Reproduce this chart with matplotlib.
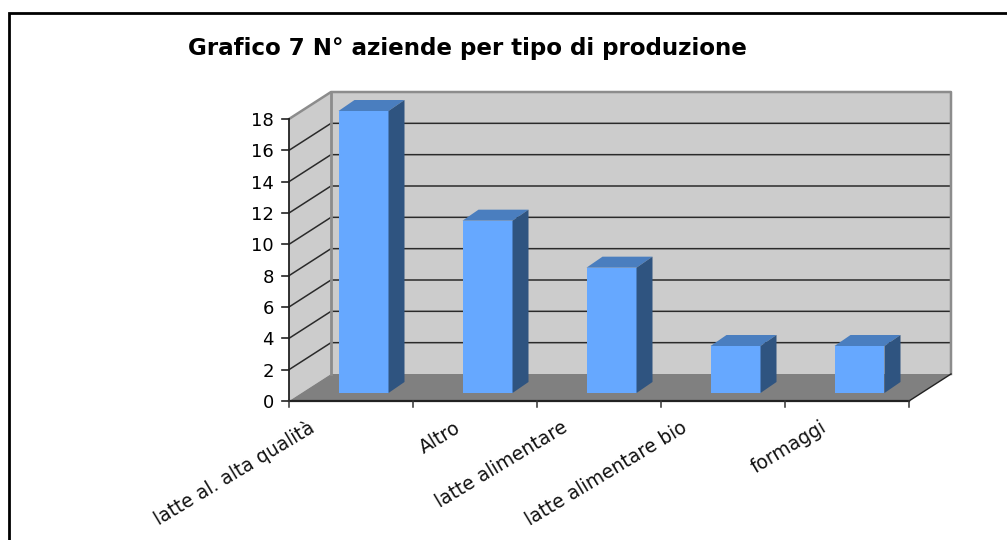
import numpy as np
import matplotlib
matplotlib.use("Agg")
import matplotlib.pyplot as plt
from matplotlib.lines import Line2D
from matplotlib.patches import Polygon

# ================= DATA =================
categories = ["latte al. alta qualità", "Altro", "latte alimentare",
              "latte alimentare bio", "formaggi"]
values = [18, 11, 8, 3, 3]
y_ticks = np.arange(0, 20, 2)

# ================= STYLE =================
W, H = 1007, 540
WALL = "#cccccc"
FLOOR = "#808080"
EDGE = "#8c8c8c"
BAR_FRONT = "#66a8ff"
BAR_TOP = "#4a7ebf"
BAR_SIDE = "#2f5480"

# horizontal shift of each category label's end from its slot centre (pixels)
label_shift = [-38, -16, -33, -38, -22]

plt.rcParams["font.family"] = ["DejaVu Sans"]

fig = plt.figure(figsize=(W / 100, H / 100), dpi=100)
# border of the chart area: only left and top edges are in frame
fig.add_artist(Line2D([8.5 / W, 8.5 / W, 1], [0, 1 - 13 / H, 1 - 13 / H], color="black",
                      lw=2, transform=fig.transFigure, solid_joinstyle="miter"))

left, right, top, bottom = 289, 909, 119, 401
ax = fig.add_axes([left / W, 1 - bottom / H, (right - left) / W, (bottom - top) / H])
ax.set_xlim(-0.5, 4.5)
ax.set_ylim(0, 18)
ax.axis("off")

# oblique depth of the box, in data units
px_x = (right - left) / 5
px_y = (bottom - top) / 18
dx = 42 / px_x
dy = 27 / px_y
x0, x1 = -0.5, 4.5
y_max = y_ticks[-1]


def poly(pts, fc, ec="none", lw=0, z=1):
    ax.add_patch(Polygon(pts, closed=True, fc=fc, ec=ec, lw=lw, zorder=z, clip_on=False))


# walls and floor
poly([(x0, 0), (x0 + dx, dy), (x0 + dx, y_max + dy), (x0, y_max)], WALL)
poly([(x0 + dx, dy), (x1 + dx, dy), (x1 + dx, y_max + dy), (x0 + dx, y_max + dy)], WALL)
poly([(x0, 0), (x1, 0), (x1 + dx, dy), (x0 + dx, dy)], FLOOR)

# gridlines on both walls
for v in y_ticks[1:-1]:
    ax.plot([x0, x0 + dx, x1 + dx], [v, v + dy, v + dy], color="#2a2a2a", lw=1.1,
            zorder=2, clip_on=False)

# wall outlines
ax.plot([x0, x0 + dx, x1 + dx, x1 + dx], [y_max, y_max + dy, y_max + dy, dy],
        color=EDGE, lw=1.8, zorder=2, clip_on=False)
ax.plot([x0 + dx, x0 + dx], [dy, y_max + dy], color=EDGE, lw=2.0, zorder=2, clip_on=False)
ax.plot([x1, x1 + dx], [0, dy], color="#222222", lw=1.0, zorder=2, clip_on=False)

# bars
bar_w = 50 / px_x
bar_dx, bar_dy = 16 / px_x, 11 / px_y
off_x, off_y = 12.5 / px_x, 8 / px_y
for i, v in enumerate(values):
    xa = i - bar_w / 2 + off_x
    xb = i + bar_w / 2 + off_x
    ya = off_y
    yb = v + off_y
    poly([(xa, ya), (xb, ya), (xb, yb), (xa, yb)], BAR_FRONT, z=4)
    poly([(xa, yb), (xb, yb), (xb + bar_dx, yb + bar_dy), (xa + bar_dx, yb + bar_dy)], BAR_TOP, z=4)
    poly([(xb, ya), (xb + bar_dx, ya + bar_dy), (xb + bar_dx, yb + bar_dy), (xb, yb)], BAR_SIDE, z=4)

# axes lines and ticks
tick_x = 7 / px_x
tick_y = 6 / px_y
ax.plot([x0, x0], [0, y_max], color="#222222", lw=1.3, zorder=5, clip_on=False)
ax.plot([x0, x1], [0, 0], color="#222222", lw=1.6, zorder=5, clip_on=False)
for v in y_ticks:
    ax.plot([x0 - tick_x, x0], [v, v], color="#222222", lw=1.2, zorder=5, clip_on=False)
    ax.annotate(str(v), (x0, v), xytext=(-15, -2), textcoords="offset pixels",
                ha="right", va="center", fontsize=13, color="black")
for k in range(len(categories) + 1):
    ax.plot([x0 + k, x0 + k], [0, -tick_y], color="#333333", lw=1.1, zorder=5, clip_on=False)

# category labels, anchored at their upper right end
for i, name in enumerate(categories):
    ax.annotate(name, (i, 0), xytext=(label_shift[i], -25), textcoords="offset pixels",
                rotation=31, rotation_mode="anchor", ha="right", va="center",
                fontsize=13.5, color="#111111")

fig.text(188 / W, 1 - 48 / H, "Grafico 7 N° aziende per tipo di produzione",
         fontsize=16.6, fontweight="bold", ha="left", va="center", color="black")

fig.savefig("out.png", dpi=100)
